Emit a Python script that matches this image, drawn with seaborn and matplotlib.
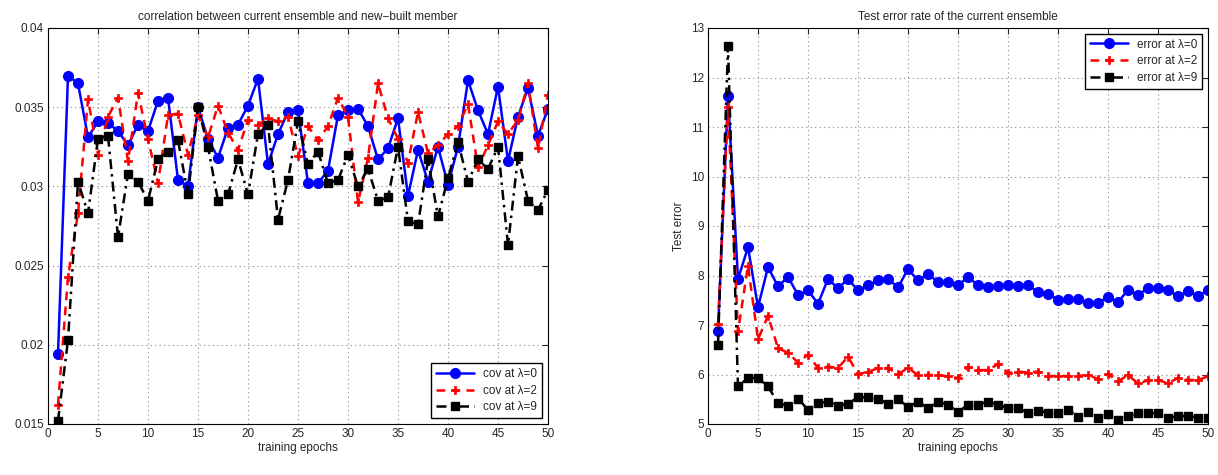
import numpy as np
import pandas as pd
import seaborn as sns
import matplotlib.pyplot as plt

# epochs 1..50
epochs = list(range(1, 51))

# correlation between current ensemble and new-built member
cov_l0 = [0.0194, 0.0370, 0.0365, 0.0331, 0.0341, 0.0340, 0.0335, 0.0326, 0.0339, 0.0335,
          0.0354, 0.0356, 0.0304, 0.0300, 0.0350, 0.0330, 0.0318, 0.0337, 0.0339, 0.0351,
          0.0368, 0.0314, 0.0333, 0.0347, 0.0348, 0.0302, 0.0302, 0.0310, 0.0345, 0.0348,
          0.0349, 0.0338, 0.0317, 0.0324, 0.0343, 0.0294, 0.0323, 0.0303, 0.0325, 0.0301,
          0.0325, 0.0367, 0.0348, 0.0333, 0.0363, 0.0316, 0.0344, 0.0362, 0.0332, 0.0349]
cov_l2 = [0.0162, 0.0243, 0.0283, 0.0355, 0.0320, 0.0344, 0.0356, 0.0316, 0.0359, 0.0330,
          0.0302, 0.0345, 0.0346, 0.0320, 0.0345, 0.0331, 0.0351, 0.0334, 0.0323, 0.0342,
          0.0339, 0.0343, 0.0341, 0.0344, 0.0319, 0.0338, 0.0329, 0.0338, 0.0356, 0.0344,
          0.0290, 0.0318, 0.0365, 0.0343, 0.0330, 0.0315, 0.0347, 0.0321, 0.0326, 0.0333,
          0.0338, 0.0352, 0.0312, 0.0326, 0.0341, 0.0333, 0.0342, 0.0365, 0.0324, 0.0358]
cov_l9 = [0.0152, 0.0203, 0.0303, 0.0283, 0.0330, 0.0332, 0.0268, 0.0308, 0.0303, 0.0291,
          0.0317, 0.0322, 0.0329, 0.0295, 0.0350, 0.0325, 0.0291, 0.0295, 0.0317, 0.0295,
          0.0333, 0.0339, 0.0279, 0.0304, 0.0341, 0.0314, 0.0322, 0.0302, 0.0304, 0.0320,
          0.0300, 0.0311, 0.0291, 0.0293, 0.0325, 0.0278, 0.0276, 0.0317, 0.0281, 0.0305,
          0.0328, 0.0303, 0.0317, 0.0311, 0.0325, 0.0263, 0.0319, 0.0291, 0.0285, 0.0298]

# test error rate of the current ensemble
err_l0 = [6.87, 11.63, 7.93, 8.57, 7.36, 8.17, 7.78, 7.97, 7.61, 7.70,
          7.43, 7.93, 7.74, 7.93, 7.70, 7.80, 7.90, 7.93, 7.76, 8.13,
          7.90, 8.03, 7.87, 7.87, 7.80, 7.97, 7.80, 7.76, 7.78, 7.81,
          7.78, 7.81, 7.66, 7.63, 7.51, 7.52, 7.52, 7.44, 7.45, 7.56,
          7.46, 7.71, 7.61, 7.74, 7.74, 7.70, 7.59, 7.68, 7.59, 7.70]
err_l2 = [7.02, 11.40, 6.87, 8.20, 6.71, 7.19, 6.53, 6.44, 6.24, 6.40,
          6.13, 6.16, 6.13, 6.36, 6.01, 6.05, 6.13, 6.13, 6.01, 6.13,
          5.99, 5.99, 5.99, 5.96, 5.93, 6.16, 6.09, 6.09, 6.21, 6.03,
          6.06, 6.04, 6.06, 5.97, 5.97, 5.97, 5.97, 5.99, 5.91, 6.01,
          5.86, 5.99, 5.82, 5.88, 5.89, 5.82, 5.93, 5.89, 5.89, 5.96]
err_l9 = [6.60, 12.63, 5.76, 5.93, 5.93, 5.76, 5.42, 5.37, 5.51, 5.29,
          5.42, 5.45, 5.37, 5.41, 5.54, 5.54, 5.51, 5.41, 5.51, 5.34,
          5.45, 5.32, 5.45, 5.39, 5.24, 5.39, 5.39, 5.45, 5.39, 5.32,
          5.32, 5.23, 5.27, 5.23, 5.23, 5.29, 5.15, 5.25, 5.12, 5.20,
          5.08, 5.16, 5.22, 5.22, 5.22, 5.12, 5.16, 5.16, 5.13, 5.12]

sns.set_style('white')
plt.rcParams['font.family'] = ['Liberation Sans', 'DejaVu Sans']
plt.rcParams['font.size'] = 8.5

fig = plt.figure(figsize=(12.18, 4.75), dpi=100)
ax1 = fig.add_axes([48 / 1218, 51 / 475, 500 / 1218, 396 / 475])
ax2 = fig.add_axes([708 / 1218, 51 / 475, 500 / 1218, 396 / 475])

styles = [
    dict(color='#0000ff', linestyle='-', marker='o', markersize=7,
         markeredgecolor='#0000ff', markeredgewidth=1),
    dict(color='#ff0000', linestyle=(0, (3.5, 2.5)), marker='P', markersize=6,
         markeredgecolor='#ff0000', markeredgewidth=0.5),
    dict(color='#000000', linestyle=(0, (4, 2, 1, 2)), marker='s', markersize=6,
         markeredgecolor='#000000', markeredgewidth=1),
]

for vals, lab, st in zip([cov_l0, cov_l2, cov_l9],
                         ['cov at λ=0', 'cov at λ=2', 'cov at λ=9'], styles):
    sns.lineplot(x=epochs, y=vals, ax=ax1, label=lab, linewidth=1.8, **st)

for vals, lab, st in zip([err_l0, err_l2, err_l9],
                         ['error at λ=0', 'error at λ=2', 'error at λ=9'], styles):
    sns.lineplot(x=epochs, y=vals, ax=ax2, label=lab, linewidth=1.8, **st)

ax1.set_xlim(0, 50)
ax1.set_ylim(0.015, 0.04)
ax1.set_xticks(range(0, 51, 5))
ax1.set_yticks([0.015, 0.02, 0.025, 0.03, 0.035, 0.04])
ax1.set_yticklabels(['0.015', '0.02', '0.025', '0.03', '0.035', '0.04'])
ax1.set_title('correlation between current ensemble and new\u2212built member',
              fontsize=8.5, pad=6)
ax1.set_xlabel('training epochs', fontsize=8.5, labelpad=1)
ax1.legend(loc='lower right', fancybox=False, edgecolor='black', framealpha=1,
           fontsize=8.5, handlelength=3.2, borderpad=0.4, labelspacing=0.4)

ax2.set_xlim(0, 50)
ax2.set_ylim(5, 13)
ax2.set_xticks(range(0, 51, 5))
ax2.set_yticks(range(5, 14))
ax2.set_title('Test error rate of the current ensemble', fontsize=8.5, pad=6)
ax2.set_xlabel('training epochs', fontsize=8.5, labelpad=1)
ax2.set_ylabel('Test error', fontsize=8.5, labelpad=4)
ax2.legend(loc='upper right', fancybox=False, edgecolor='black', framealpha=1,
           fontsize=8.5, handlelength=3.2, borderpad=0.4, labelspacing=0.4)

for ax in (ax1, ax2):
    ax.grid(True, linestyle=(0, (1, 3)), color='#888888', linewidth=0.8)
    ax.tick_params(direction='in', length=4, top=True, right=True,
                   labelsize=8.5, pad=3)
    for sp in ax.spines.values():
        sp.set_color('black')
        sp.set_linewidth(0.8)

plt.savefig('out.png', dpi=100)
